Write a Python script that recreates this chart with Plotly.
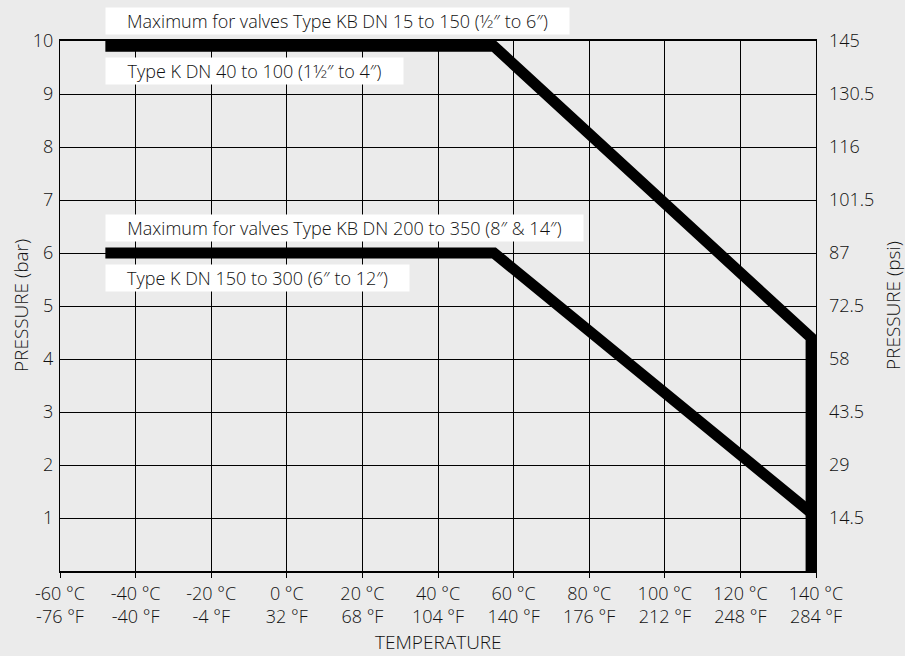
import plotly.graph_objects as go

# Data
temp_c_ticks = [-60, -40, -20, 0, 20, 40, 60, 80, 100, 120, 140]
temp_f_labels = ["-76 °F", "-40 °F", "-4 °F", "32 °F", "68 °F", "104 °F", "140 °F", "176 °F", "212 °F", "248 °F", "284 °F"]
bar_ticks = [1, 2, 3, 4, 5, 6, 7, 8, 9, 10]
psi_labels = ["14.5", "29", "43.5", "58", "72.5", "87", "101.5", "116", "130.5", "145"]

upper_temp = [-48, 54.8, 138.7, 138.7]
upper_pressure = [9.9, 9.9, 4.4, 0]
lower_temp = [-48, 54.8, 138.7]
lower_pressure = [6.0, 6.0, 1.1]

labels_upper = ["Maximum for valves Type KB DN 15 to 150 (½″ to 6″)", "Type K DN 40 to 100 (1½″ to 4″)"]
labels_lower = ["Maximum for valves Type KB DN 200 to 350 (8″ & 14″)", "Type K DN 150 to 300 (6″ to 12″)"]

FONT = "Open Sans"
TXT = "#111111"
BG = "#ebebeb"
FS = 18
FW = 300

fig = go.Figure()
fig.add_trace(go.Scatter(x=upper_temp, y=upper_pressure, mode="lines",
                         line=dict(color="black", width=11), hoverinfo="skip", showlegend=False))
fig.add_trace(go.Scatter(x=lower_temp, y=lower_pressure, mode="lines",
                         line=dict(color="black", width=11), hoverinfo="skip", showlegend=False))
# invisible trace on right axis
fig.add_trace(go.Scatter(x=[temp_c_ticks[0]], y=[0], yaxis="y2", mode="markers",
                         marker=dict(opacity=0), hoverinfo="skip", showlegend=False))

ticktext = [f"{c} °C<br>{f}" for c, f in zip(temp_c_ticks, temp_f_labels)]
font = dict(family=FONT, size=FS, color=TXT, weight=FW)
tfont = dict(family=FONT, size=19, color=TXT, weight=FW)

fig.update_layout(
    width=905, height=656,
    margin=dict(l=60, r=89, t=41, b=85),
    paper_bgcolor=BG, plot_bgcolor=BG,
    font=font,
    xaxis=dict(range=[-60, 140], tickvals=temp_c_ticks, ticktext=ticktext, automargin=False,
               showgrid=True, gridcolor="black", gridwidth=1,
               showline=True, linecolor="black", linewidth=2, mirror=True,
               ticks="outside", ticklen=5, tickcolor="black", zeroline=False,
               tickfont=font),
    yaxis=dict(range=[0, 10], tickvals=bar_ticks, showgrid=True, gridcolor="black", gridwidth=1,
               showline=True, linecolor="black", linewidth=1, mirror=True, ticks="",
               zeroline=False, automargin=False, ticklabelstandoff=2, tickfont=font),
    yaxis2=dict(range=[0, 145], tickvals=[float(p) for p in psi_labels], ticktext=psi_labels,
                overlaying="y", side="right", showgrid=False, zeroline=False, ticks="",
                automargin=False, ticklabelstandoff=12, tickfont=font),
)

# axis titles
fig.add_annotation(text="TEMPERATURE", xref="paper", yref="paper", x=0.5, y=0,
                   xanchor="center", yanchor="middle", yshift=-71, showarrow=False, font=tfont)
fig.add_annotation(text="PRESSURE (bar)", xref="paper", yref="paper", x=0, y=0.5, textangle=-90,
                   xanchor="center", yanchor="middle", xshift=-39, showarrow=False, font=tfont)
fig.add_annotation(text="PRESSURE (psi)", xref="paper", yref="paper", x=1, y=0.5, textangle=-90,
                   xanchor="center", yanchor="middle", xshift=77, showarrow=False, font=tfont)

widths = [463, 297]
for txt, w, shift in zip(labels_upper, widths, [25.5, -24.5]):
    fig.add_annotation(x=upper_temp[0], y=upper_pressure[0], xref="x", yref="y",
                       xanchor="left", yanchor="middle", yshift=shift, text=txt,
                       showarrow=False, bgcolor="white", width=w, height=26, borderpad=0,
                       align="center", font=font)
widths = [477, 303]
for txt, w, shift in zip(labels_lower, widths, [25.5, -24.5]):
    fig.add_annotation(x=lower_temp[0], y=lower_pressure[0], xref="x", yref="y",
                       xanchor="left", yanchor="middle", yshift=shift, text=txt,
                       showarrow=False, bgcolor="white", width=w, height=26, borderpad=0,
                       align="center", font=font)

post = ("document.body.style.margin='0';document.body.style.padding='0';"
        "document.body.style.overflow='hidden';"
        "document.body.style.background='" + BG + "';"
        "document.documentElement.style.background='" + BG + "';")
fig.write_html("out.html", post_script=post, config={"displayModeBar": False})
